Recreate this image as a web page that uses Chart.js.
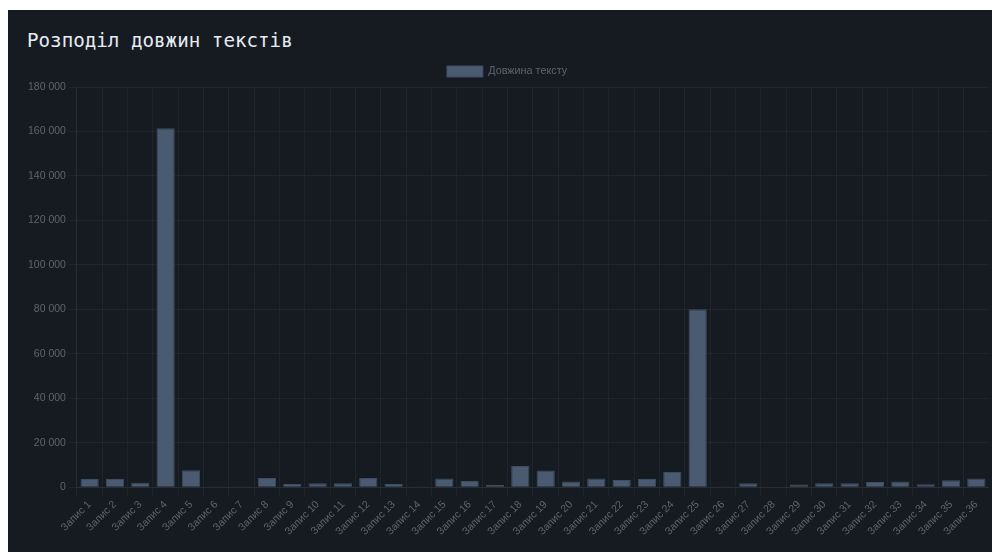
<!DOCTYPE html>
<html lang="uk">
<head>
<meta charset="utf-8">
<script src="https://cdn.jsdelivr.net/npm/chart.js@4"></script>
<style>
  html, body { margin: 0; padding: 0; background: #ffffff; overflow: hidden; }
  .card {
    position: absolute; left: 8px; top: 10px; width: 1010px; height: 542px;
    background: #161b22; overflow: hidden;
  }
  h2 {
    position: absolute; left: 19px; top: 19px; margin: 0;
    font-family: "DejaVu Sans Mono", monospace; font-weight: normal;
    font-size: 19.2px; color: #e6edf3;
  }
  .wrap { position: absolute; left: 17px; top: 46px; width: 964px; height: 496px; }
</style>
</head>
<body>
<div class="card">
  <h2>Розподіл довжин текстів</h2>
  <div class="wrap"><canvas id="lengths"></canvas></div>
</div>
<script>
// Довжини текстів по записах
const labels = Array.from({ length: 36 }, (_, i) => 'Запис ' + (i + 1));
const lengths = [
  3700, 3700, 2000, 161500, 7700, 300, 100, 4200, 1500, 1800,
  1800, 4200, 1500, 100, 3900, 2800, 1000, 9600, 7500, 2600,
  3900, 3300, 3700, 6900, 80100, 100, 1800, 0, 1200, 1800,
  1800, 2400, 2600, 1400, 3200, 3900
];

const gridColor = 'rgba(255,255,255,0.045)';
const tickColor = '#5d646d';
const font = { family: 'Liberation Sans', size: 10.5 };

new Chart(document.getElementById('lengths'), {
  type: 'bar',
  data: {
    labels: labels,
    datasets: [{
      label: 'Довжина тексту',
      data: lengths,
      backgroundColor: '#4a5a70',
      borderColor: '#3f4d61',
      borderWidth: 1
    }]
  },
  options: {
    responsive: true,
    maintainAspectRatio: false,
    locale: 'uk-UA',
    animation: false,
    layout: { padding: { bottom: 11 } },
    plugins: {
      legend: {
        position: 'top',
        labels: { color: tickColor, boxWidth: 36, boxHeight: 11, font: { family: 'Liberation Sans', size: 10.8 } }
      }
    },
    scales: {
      x: {
        grid: { color: gridColor },
        border: { color: gridColor },
        ticks: {
          color: tickColor, maxRotation: 45, minRotation: 45, autoSkip: false,
          font: font
        }
      },
      y: {
        beginAtZero: true,
        max: 180000,
        grid: { color: gridColor },
        border: { color: gridColor },
        ticks: { color: tickColor, stepSize: 20000, font: font }
      }
    }
  }
});
</script>
</body>
</html>
